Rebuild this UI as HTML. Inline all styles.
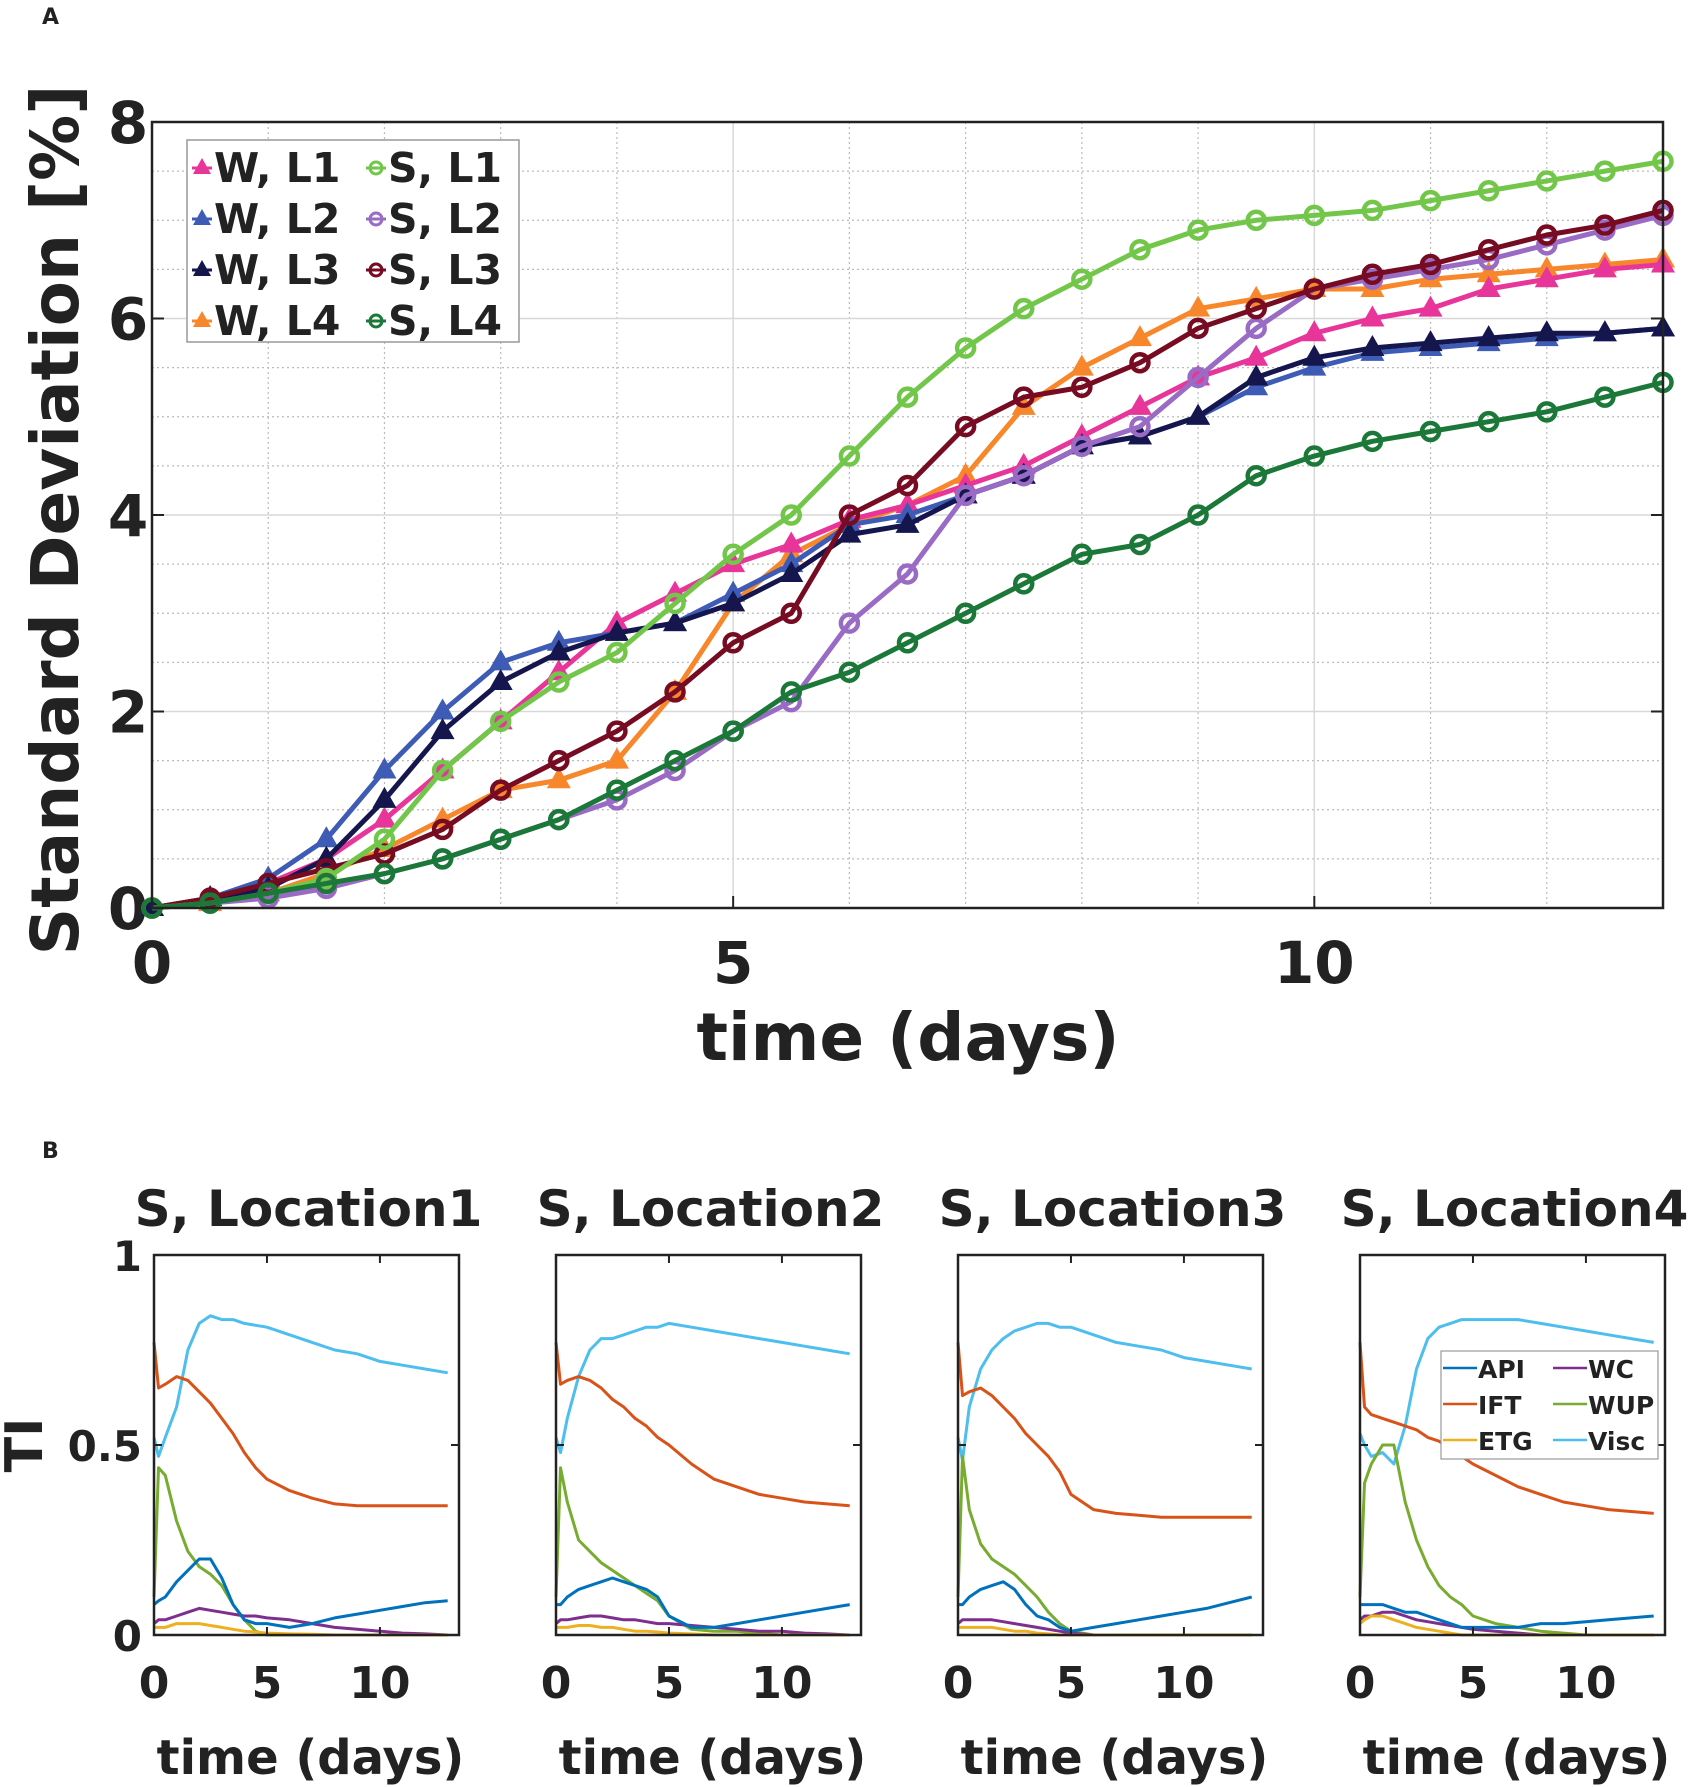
<!DOCTYPE html>
<html><head><meta charset="utf-8"><style>
html,body{margin:0;padding:0;background:#fff;}
svg{display:block;}
text{font-family:"DejaVu Sans","Liberation Sans",sans-serif;font-weight:bold;fill:#222;}
</style></head>
<body>
<svg id="chart" width="1690" height="1787" viewBox="0 0 1690 1787" xmlns="http://www.w3.org/2000/svg">
<text x="42" y="24" font-size="22">A</text>
<text x="42" y="1158" font-size="22">B</text>
<g id="gA"></g>
<g id="gB"></g>
</svg>
<script>
// ---------- Panel A data ----------
const timesA = [0,0.5,1,1.5,2,2.5,3,3.5,4,4.5,5,5.5,6,6.5,7,7.5,8,8.5,9,9.5,10,10.5,11,11.5,12,12.5,13];
const seriesNamesA = ["W, L1","W, L2","W, L3","W, L4","S, L1","S, L2","S, L3","S, L4"];
const wL1 = [0,0.1,0.25,0.5,0.9,1.4,1.9,2.4,2.9,3.2,3.5,3.7,3.95,4.1,4.3,4.5,4.8,5.1,5.4,5.6,5.85,6.0,6.1,6.3,6.4,6.5,6.55];
const wL2 = [0,0.1,0.3,0.7,1.4,2.0,2.5,2.7,2.8,2.9,3.2,3.5,3.9,4.0,4.2,4.4,4.7,4.8,5.0,5.3,5.5,5.65,5.7,5.75,5.8,5.85,5.9];
const wL3 = [0,0.1,0.2,0.5,1.1,1.8,2.3,2.6,2.8,2.9,3.1,3.4,3.8,3.9,4.2,4.4,4.7,4.8,5.0,5.4,5.6,5.7,5.75,5.8,5.85,5.85,5.9];
const wL4 = [0,0.05,0.15,0.35,0.6,0.9,1.2,1.3,1.5,2.2,3.1,3.6,3.9,4.1,4.4,5.1,5.5,5.8,6.1,6.2,6.3,6.3,6.4,6.45,6.5,6.55,6.6];
const sL1 = [0,0.05,0.15,0.3,0.7,1.4,1.9,2.3,2.6,3.1,3.6,4.0,4.6,5.2,5.7,6.1,6.4,6.7,6.9,7.0,7.05,7.1,7.2,7.3,7.4,7.5,7.6];
const sL2 = [0,0.05,0.1,0.2,0.35,0.5,0.7,0.9,1.1,1.4,1.8,2.1,2.9,3.4,4.2,4.4,4.7,4.9,5.4,5.9,6.3,6.4,6.5,6.6,6.75,6.9,7.05];
const sL3 = [0,0.1,0.25,0.4,0.55,0.8,1.2,1.5,1.8,2.2,2.7,3.0,4.0,4.3,4.9,5.2,5.3,5.55,5.9,6.1,6.3,6.45,6.55,6.7,6.85,6.95,7.1];
const sL4 = [0,0.05,0.15,0.25,0.35,0.5,0.7,0.9,1.2,1.5,1.8,2.2,2.4,2.7,3.0,3.3,3.6,3.7,4.0,4.4,4.6,4.75,4.85,4.95,5.05,5.2,5.35];
const xTicksA = [0,5,10];
const yTicksA = [0,2,4,6,8];

// ---------- Panel B data ----------
const timesB = [0,0.2,0.5,1,1.5,2,2.5,3,3.5,4,4.5,5,6,7,8,9,10,11,12,13];
const varNames = ["API","IFT","ETG","WC","WUP","Visc"];
const panelTitles = ["S, Location1","S, Location2","S, Location3","S, Location4"];
const p1API=[0.08,0.09,0.1,0.14,0.17,0.2,0.2,0.15,0.08,0.04,0.03,0.03,0.02,0.03,0.045,0.055,0.065,0.075,0.085,0.09];
const p1IFT=[0.77,0.65,0.66,0.68,0.67,0.64,0.61,0.57,0.53,0.48,0.44,0.41,0.38,0.36,0.345,0.34,0.34,0.34,0.34,0.34];
const p1ETG=[0.02,0.02,0.02,0.03,0.03,0.03,0.025,0.02,0.015,0.01,0.008,0.005,0.003,0.002,0,0,0,0,0,0];
const p1WC=[0.03,0.04,0.04,0.05,0.06,0.07,0.065,0.06,0.055,0.05,0.05,0.045,0.04,0.03,0.02,0.015,0.01,0.005,0.003,0];
const p1WUP=[0.1,0.44,0.42,0.3,0.22,0.18,0.16,0.13,0.08,0.04,0.01,0,0,0,0,0,0,0,0,0];
const p1Visc=[0.52,0.47,0.52,0.6,0.75,0.82,0.84,0.83,0.83,0.82,0.815,0.81,0.79,0.77,0.75,0.74,0.72,0.71,0.7,0.69];
const p2API=[0.08,0.08,0.1,0.12,0.13,0.14,0.15,0.14,0.13,0.12,0.1,0.05,0.02,0.02,0.03,0.04,0.05,0.06,0.07,0.08];
const p2IFT=[0.77,0.66,0.67,0.68,0.67,0.65,0.62,0.6,0.57,0.55,0.52,0.5,0.45,0.41,0.39,0.37,0.36,0.35,0.345,0.34];
const p2ETG=[0.02,0.02,0.02,0.025,0.025,0.02,0.02,0.015,0.01,0.01,0.008,0.005,0.003,0,0,0,0,0,0,0];
const p2WC=[0.03,0.04,0.04,0.045,0.05,0.05,0.045,0.04,0.04,0.035,0.03,0.03,0.025,0.02,0.015,0.01,0.01,0.005,0.003,0];
const p2WUP=[0.1,0.44,0.35,0.25,0.22,0.19,0.17,0.15,0.13,0.11,0.09,0.05,0.015,0.01,0.01,0.005,0,0,0,0];
const p2Visc=[0.52,0.48,0.57,0.68,0.75,0.78,0.78,0.79,0.8,0.81,0.81,0.82,0.81,0.8,0.79,0.78,0.77,0.76,0.75,0.74];
const p3API=[0.08,0.08,0.1,0.12,0.13,0.14,0.12,0.08,0.05,0.04,0.02,0.01,0.02,0.03,0.04,0.05,0.06,0.07,0.085,0.1];
const p3IFT=[0.77,0.63,0.64,0.65,0.63,0.6,0.57,0.53,0.5,0.47,0.43,0.37,0.33,0.32,0.315,0.31,0.31,0.31,0.31,0.31];
const p3ETG=[0.02,0.02,0.02,0.02,0.02,0.015,0.01,0.01,0.005,0.003,0,0,0,0,0,0,0,0,0,0];
const p3WC=[0.03,0.04,0.04,0.04,0.04,0.035,0.03,0.025,0.02,0.015,0.01,0.005,0,0,0,0,0,0,0,0];
const p3WUP=[0.1,0.47,0.33,0.24,0.2,0.18,0.16,0.13,0.1,0.06,0.03,0.01,0,0,0,0,0,0,0,0];
const p3Visc=[0.52,0.46,0.6,0.7,0.75,0.78,0.8,0.81,0.82,0.82,0.81,0.81,0.79,0.77,0.76,0.75,0.73,0.72,0.71,0.7];
const p4API=[0.08,0.08,0.08,0.08,0.07,0.06,0.06,0.05,0.04,0.03,0.02,0.02,0.02,0.02,0.03,0.03,0.035,0.04,0.045,0.05];
const p4IFT=[0.77,0.6,0.58,0.57,0.56,0.55,0.54,0.52,0.51,0.49,0.47,0.45,0.42,0.39,0.37,0.35,0.34,0.33,0.325,0.32];
const p4ETG=[0.03,0.04,0.05,0.05,0.04,0.03,0.02,0.015,0.01,0.005,0,0,0,0,0,0,0,0,0,0];
const p4WC=[0.04,0.05,0.05,0.06,0.06,0.05,0.04,0.035,0.03,0.025,0.02,0.015,0.01,0.005,0,0,0,0,0,0];
const p4WUP=[0.1,0.4,0.45,0.5,0.5,0.35,0.25,0.18,0.13,0.1,0.08,0.05,0.03,0.02,0.01,0.005,0,0,0,0];
const p4Visc=[0.53,0.5,0.47,0.48,0.45,0.55,0.7,0.78,0.81,0.82,0.83,0.83,0.83,0.83,0.82,0.81,0.8,0.79,0.78,0.77];
const xTicksB = [0,5,10];
const yTicksB = [0,0.5,1];

const NS="http://www.w3.org/2000/svg";
function mk(parent,tag,attrs,txt){const e=document.createElementNS(NS,tag);for(const k in attrs)e.setAttribute(k,attrs[k]);if(txt!==undefined)e.textContent=txt;parent.appendChild(e);return e;}

// ---------- Panel A ----------
(function(){
const g=document.getElementById('gA');
const L=152,R=1663,T=122,B=908;
const xs=v=>L+(v/13)*(R-L), ys=v=>B-(v/8)*(B-T);
for(let d=1;d<13;d++){ if(d%5===0) continue;
  const l=mk(g,'line',{x1:xs(d),x2:xs(d),y1:T,y2:B,stroke:'#bbb','stroke-width':1.2,'stroke-dasharray':'2,3'});
  }
for(let v=0.5;v<8;v+=0.5){ if(v%2===0) continue;
  const l=mk(g,'line',{x1:L,x2:R,y1:ys(v),y2:ys(v),stroke:'#bbb','stroke-width':1.2,'stroke-dasharray':'2,3'});
  }
xTicksA.forEach(t=>{const l=mk(g,'line',{x1:xs(t),x2:xs(t),y1:T,y2:B,stroke:'#d8d8d8','stroke-width':1.5});
  
  const tx=mk(g,'text',{x:xs(t),y:983,'font-size':58,'text-anchor':'middle'},String(t));
  
  mk(g,'line',{x1:xs(t),x2:xs(t),y1:B,y2:B-12,stroke:'#222','stroke-width':2});});
yTicksA.forEach(t=>{const l=mk(g,'line',{x1:L,x2:R,y1:ys(t),y2:ys(t),stroke:'#d8d8d8','stroke-width':1.5});
  
  const tx=mk(g,'text',{x:128,y:ys(t)+21,'font-size':58,'text-anchor':'middle'},String(t));
  
  mk(g,'line',{x1:L,x2:L+12,y1:ys(t),y2:ys(t),stroke:'#222','stroke-width':2});
  mk(g,'line',{x1:R,x2:R-12,y1:ys(t),y2:ys(t),stroke:'#222','stroke-width':2});});
const all=[wL1,wL2,wL3,wL4,sL1,sL2,sL3,sL4];
const cols=['#e8359a','#3e5bb5','#15164d','#f7872a','#72c64a','#9a6bc4','#760b22','#1b7838'];
const order=[3,0,1,2,5,6,4,7];
order.forEach(i=>{
  const d=all[i];const pts=d.map((v,j)=>xs(timesA[j])+','+ys(v)).join(' ');
  const pl=mk(g,'polyline',{points:pts,fill:'none',stroke:cols[i],'stroke-width':5,'stroke-linejoin':'round'});
  
  
  d.forEach((v,j)=>{const x=xs(timesA[j]),y=ys(v);let m;
    if(i<4){m=mk(g,'polygon',{points:`${x},${y-13} ${x-12},${y+8} ${x+12},${y+8}`,fill:cols[i]});}
    else{m=mk(g,'circle',{cx:x,cy:y,r:8.5,fill:'none',stroke:cols[i],'stroke-width':4.5});}
    });
});
const ax=mk(g,'rect',{x:L,y:T,width:R-L,height:B-T,fill:'none',stroke:'#222','stroke-width':2.5});

const lg=mk(g,'g',{});
mk(lg,'rect',{x:187,y:140,width:332,height:202,fill:'#fff',stroke:'#999','stroke-width':1.5});
for(let i=0;i<8;i++){const col=i<4?0:1,row=i%4;const x0=col?364:190,y0=168+row*51;
  const e=mk(lg,'g',{});
  mk(e,'line',{x1:x0+2,x2:x0+22,y1:y0,y2:y0,stroke:cols[i],'stroke-width':3});
  if(i<4)mk(e,'polygon',{points:`${x0+12},${y0-10} ${x0+3},${y0+6} ${x0+21},${y0+6}`,fill:cols[i]});
  else mk(e,'circle',{cx:x0+12,cy:y0,r:6,fill:'none',stroke:cols[i],'stroke-width':3});
  mk(e,'text',{x:x0+24,y:y0+14,'font-size':41,fill:'#111'},seriesNamesA[i]);}
const xl=mk(g,'text',{x:908,y:1060,'font-size':66,'text-anchor':'middle'},'time (days)');

const yl=mk(g,'text',{x:0,y:0,'font-size':66,'text-anchor':'middle',transform:'translate(78,520) rotate(-90)'},'Standard Deviation [%]');

})();

// ---------- Panel B ----------
(function(){
const g=document.getElementById('gB');
const panels=[[p1API,p1IFT,p1ETG,p1WC,p1WUP,p1Visc],[p2API,p2IFT,p2ETG,p2WC,p2WUP,p2Visc],[p3API,p3IFT,p3ETG,p3WC,p3WUP,p3Visc],[p4API,p4IFT,p4ETG,p4WC,p4WUP,p4Visc]];
const cols=['#0072BD','#D95319','#EDB120','#7E2F8E','#77AC30','#4DBEEE'];
const lefts=[154,556,958,1360],W=305,T=1255,B=1635;
panels.forEach((p,k)=>{
  const L=lefts[k],R=L+W;const xs=v=>L+(v/13.5)*W, ys=v=>B-v*(B-T);
  const pg=mk(g,'g',{});
  const tt=mk(pg,'text',{x:L+W/2+2,y:1226,'font-size':50,'text-anchor':'middle'},panelTitles[k]);
  
  [5,4,3,2,1,0].forEach(i=>{const d=p[i];
    const pl=mk(pg,'polyline',{points:d.map((v,j)=>xs(timesB[j])+','+ys(v)).join(' '),fill:'none',stroke:cols[i],'stroke-width':3,'stroke-linejoin':'round'});
    });
  const fr=mk(pg,'rect',{x:L,y:T,width:W,height:B-T,fill:'none',stroke:'#222','stroke-width':2.5});
  
  xTicksB.forEach(t=>{mk(pg,'line',{x1:xs(t),x2:xs(t),y1:B,y2:B-8,stroke:'#222','stroke-width':2});
    mk(pg,'line',{x1:xs(t),x2:xs(t),y1:T,y2:T+8,stroke:'#222','stroke-width':2});
    const tx=mk(pg,'text',{x:xs(t),y:1698,'font-size':44,'text-anchor':'middle'},String(t));
    });
  yTicksB.forEach(t=>{mk(pg,'line',{x1:L,x2:L+8,y1:ys(t),y2:ys(t),stroke:'#222','stroke-width':2});
    mk(pg,'line',{x1:R,x2:R-8,y1:ys(t),y2:ys(t),stroke:'#222','stroke-width':2});
    if(k===0){const tx=mk(pg,'text',{x:142,y:ys(t)+16,'font-size':42,'text-anchor':'end'},String(t));
      }});
  const xl=mk(pg,'text',{x:L+W/2+4,y:1774,'font-size':48,'text-anchor':'middle'},'time (days)');
  
});
const yl=mk(g,'text',{x:0,y:0,'font-size':52,'text-anchor':'middle',transform:'translate(42,1445) rotate(-90)'},'TI');

const lg=mk(g,'g',{});
mk(lg,'rect',{x:1441,y:1351,width:217,height:108,fill:'#fff',stroke:'#999','stroke-width':1.2});
const lorder=[0,3,1,4,2,5];
lorder.forEach((i,n)=>{const col=n%2,row=Math.floor(n/2);const x0=1443+col*110,y0=1368+row*36;
  const e=mk(lg,'g',{});
  mk(e,'line',{x1:x0,x2:x0+34,y1:y0,y2:y0,stroke:cols[i],'stroke-width':2.5});
  mk(e,'text',{x:x0+35,y:y0+10,'font-size':25},varNames[i]);});
})();
</script>
</body></html>
